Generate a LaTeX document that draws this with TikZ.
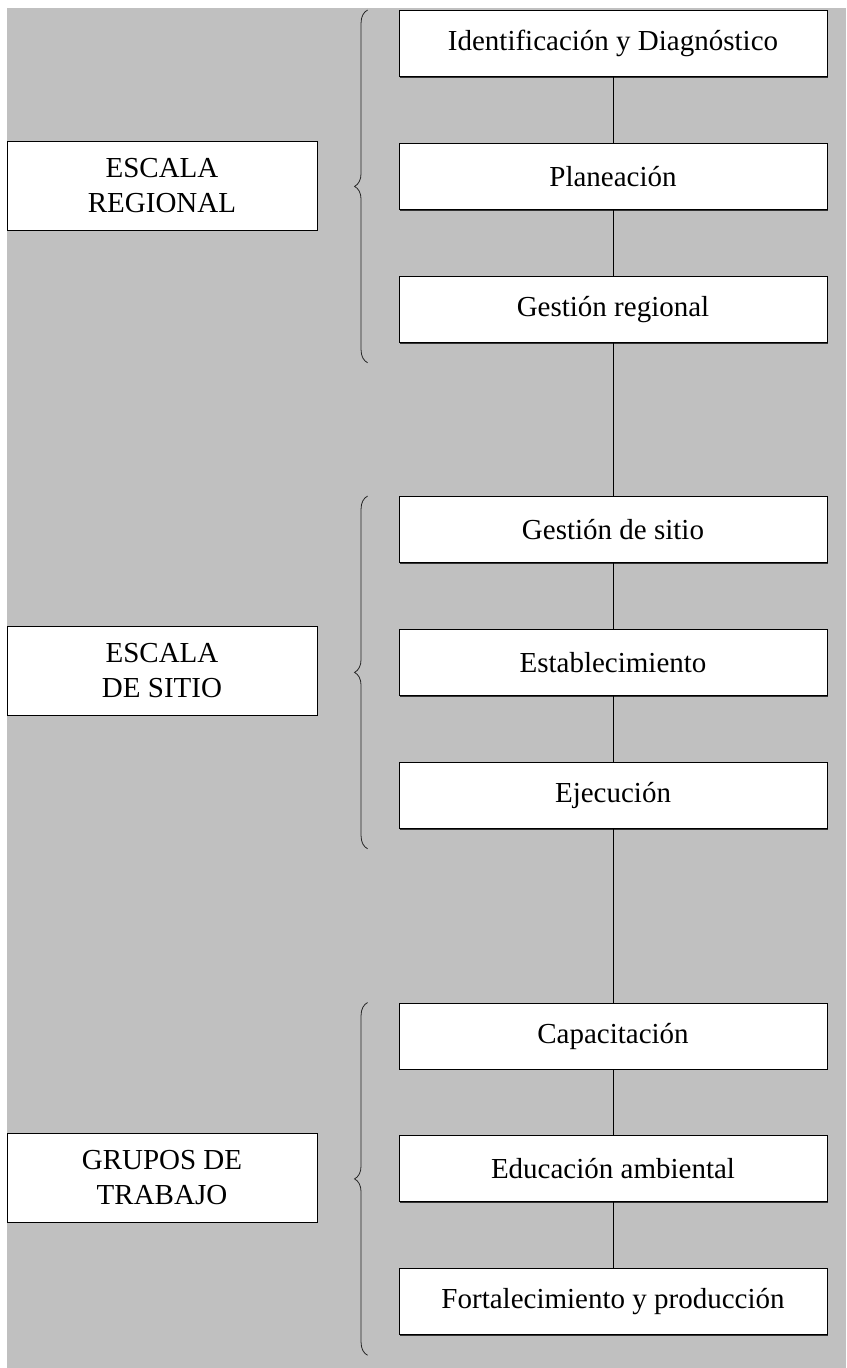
\documentclass[tikz,border=0pt]{standalone}
\usepackage{fontspec}
\setmainfont{Liberation Serif}
\usepackage{tikz}
\usetikzlibrary{positioning,calc,decorations.pathreplacing,shadows}
\definecolor{panel}{HTML}{C0C0C0}

\begin{document}
\begin{tikzpicture}[x=1pt, y=-1pt, node distance=66pt, every node/.style={font=\fontsize{29}{35}\selectfont}, stage/.style={draw, fill=white, line width=0.9pt, minimum width=428pt, minimum height=66pt, inner sep=0pt, drop shadow={shadow xshift=1.2pt, shadow yshift=-1.2pt, fill=black!80, opacity=1}}, scalebox/.style={stage, minimum width=310pt, minimum height=89pt, align=center}, conn/.style={line width=0.9pt}, curly/.style={decorate, decoration={brace, amplitude=13pt}, line width=0.8pt, black!85}]
\fill[white] (0,0) rectangle (846,1368);
\fill[panel] (7,8) rectangle (846,1368);
\node[stage] (ident) at (613,43.5) {Identificación y Diagnóstico};
\node[stage,below=of ident] (plan) {Planeación};
\node[stage,below=of plan] (gestreg) {Gestión regional};
\node[stage] (gestsit) at (613,529.5) {Gestión de sitio};
\node[stage,below=of gestsit] (estab) {Establecimiento};
\node[stage,below=of estab] (ejec) {Ejecución};
\node[stage] (capac) at (613,1036) {Capacitación};
\node[stage,below=of capac] (educ) {Educación ambiental};
\node[stage,below=of educ] (fortal) {Fortalecimiento y producción};
\node[scalebox] (regional) at (162,185.5) {ESCALA\\REGIONAL};
\node[scalebox] (sitio) at (162,670.5) {ESCALA\\DE SITIO};
\node[scalebox] (grupos) at (162,1177.5) {GRUPOS DE\\TRABAJO};
\draw[conn] (ident)--(plan);
\draw[conn] (plan)--(gestreg);
\draw[conn] (gestreg)--(gestsit);
\draw[conn] (gestsit)--(estab);
\draw[conn] (estab)--(ejec);
\draw[conn] (ejec)--(capac);
\draw[conn] (capac)--(educ);
\draw[conn] (educ)--(fortal);
\draw[curly] ($(gestreg.south west)+(-31,20)$)--($(ident.north west)+(-31,0)$);
\draw[curly] ($(ejec.south west)+(-31,20)$)--($(gestsit.north west)+(-31,0)$);
\draw[curly] ($(fortal.south west)+(-31,20)$)--($(capac.north west)+(-31,0)$);
\end{tikzpicture}
\end{document}
